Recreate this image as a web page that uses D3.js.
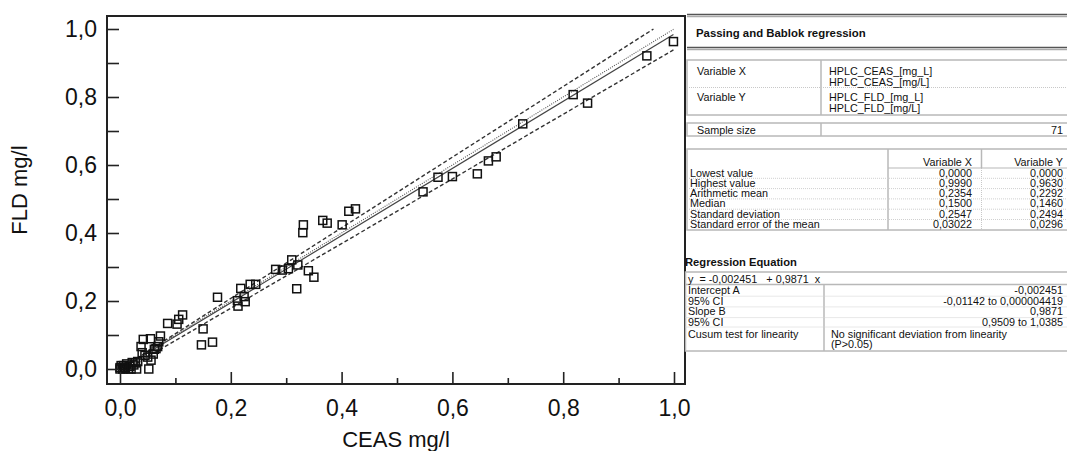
<!DOCTYPE html>
<html>
<head>
<meta charset="utf-8">
<script src="https://cdn.jsdelivr.net/npm/d3@7"></script>
<style>
body { margin: 0; background: #fff; }
text { font-family: "Liberation Sans", Arial, sans-serif; fill: #111; white-space: pre; }
</style>
</head>
<body>
<svg width="1067" height="451"></svg>
<script>
const ceas = [0.999, 0.951, 0.818, 0.844, 0.727, 0.679, 0.665, 0.645, 0.600, 0.574,
    0.547, 0.425, 0.413, 0.366, 0.374, 0.401, 0.331, 0.330, 0.310, 0.321,
    0.304, 0.293, 0.281, 0.340, 0.350, 0.319, 0.245, 0.235, 0.218, 0.224,
    0.226, 0.212, 0.213, 0.176, 0.150, 0.167, 0.147, 0.113, 0.106, 0.103,
    0.086, 0.073, 0.070, 0.068, 0.060, 0.056, 0.055, 0.042, 0.038, 0.040,
    0.052, 0.030, 0.015, 0.000, 0.002, 0.012, 0.022, 0.005, 0.008, 0.010,
    0.018, 0.025, 0.020, 0.000, 0.006, 0.028, 0.032, 0.045, 0.050, 0.062, 0.065];
const fld = [0.963, 0.921, 0.807, 0.782, 0.721, 0.624, 0.612, 0.574, 0.566, 0.564,
    0.521, 0.471, 0.464, 0.437, 0.429, 0.424, 0.424, 0.401, 0.321, 0.306,
    0.295, 0.291, 0.293, 0.289, 0.270, 0.236, 0.249, 0.249, 0.237, 0.213,
    0.198, 0.201, 0.185, 0.211, 0.118, 0.079, 0.071, 0.159, 0.146, 0.132,
    0.134, 0.097, 0.080, 0.066, 0.044, 0.026, 0.089, 0.087, 0.066, 0.048,
    0.000, 0.000, 0.000, 0.000, 0.010, 0.015, 0.019, 0.000, 0.005, 0.002,
    0.008, 0.012, 0.000, 0.004, 0.010, 0.018, 0.022, 0.040, 0.035, 0.058, 0.060];

const majorTicks = [0, 0.2, 0.4, 0.6, 0.8, 1.0];
const minorTicks = [0.1, 0.3, 0.5, 0.7, 0.9];
const yTicks = [0, 0.1, 0.2, 0.3, 0.4, 0.5, 0.6, 0.7, 0.8, 0.9, 1.0];

// Passing-Bablok fit: intercept A, slope B and their 95% CI
const interceptA = -0.002451;
const slopeB = 0.9871;
const interceptCI = [-0.01142, 0.000004419];
const slopeCI = [0.9509, 1.0385];
const xRange = [0, 0.999];

// report table contents
const variableRows = [
    ['Variable X', 'HPLC_CEAS_[mg_L]', 'HPLC_CEAS_[mg/L]'],
    ['Variable Y', 'HPLC_FLD_[mg_L]', 'HPLC_FLD_[mg/L]']
];
const sampleSize = 71;
const statHeader = ['Variable X', 'Variable Y'];
const statRows = [
    ['Lowest value', '0,0000', '0,0000'],
    ['Highest value', '0,9990', '0,9630'],
    ['Arithmetic mean', '0,2354', '0,2292'],
    ['Median', '0,1500', '0,1460'],
    ['Standard deviation', '0,2547', '0,2494'],
    ['Standard error of the mean', '0,03022', '0,0296']
];
const equation = 'y  = -0,002451   + 0,9871  x';
const regRows = [
    ['Intercept A', '-0,002451'],
    ['95% CI', '-0,01142 to 0,000004419'],
    ['Slope B', '0,9871'],
    ['95% CI', '0,9509 to 1,0385']
];
const cusum = ['Cusum test for linearity', 'No significant deviation from linearity', '(P>0.05)'];

const svg = d3.select('svg');

// ---------- scatter plot ----------
const frame = {left: 107, top: 16, right: 685, bottom: 384};
const x = d3.scaleLinear().domain([0, 1]).range([120, 674]);
const y = d3.scaleLinear().domain([0, 1]).range([369, 29]);
const comma = d => d3.format('.1f')(d).replace('.', ',');

const plot = svg.append('g');

// regression, identity and CI lines
const line = d3.line().x(d => x(d[0])).y(d => y(d[1]));
function fitLine(a, b) {
    let x1 = Math.min(xRange[1], (1 - a) / b);
    return [[xRange[0], a + b * xRange[0]], [x1, a + b * x1]];
}
plot.append('path').attr('d', line(fitLine(interceptCI[1], slopeCI[1])))
    .attr('fill', 'none').attr('stroke', '#333').attr('stroke-width', 1.4).attr('stroke-dasharray', '4,2.5');
plot.append('path').attr('d', line(fitLine(interceptCI[0], slopeCI[0])))
    .attr('fill', 'none').attr('stroke', '#333').attr('stroke-width', 1.4).attr('stroke-dasharray', '4,2.5');
plot.append('path').attr('d', line(fitLine(0, 1)))
    .attr('fill', 'none').attr('stroke', '#555').attr('stroke-width', 1.1).attr('stroke-dasharray', '1,1.3');
plot.append('path').attr('d', line(fitLine(interceptA, slopeB)))
    .attr('fill', 'none').attr('stroke', '#444').attr('stroke-width', 1.2);

// data points as open squares
plot.selectAll('rect.pt').data(ceas.map((c, i) => [c, fld[i]]))
    .enter().append('rect')
    .attr('class', 'pt')
    .attr('x', d => x(d[0]) - 4)
    .attr('y', d => y(d[1]) - 4)
    .attr('width', 8).attr('height', 8)
    .attr('fill', 'none').attr('stroke', '#111').attr('stroke-width', 1.5);

// axes with ticks pointing into the frame
plot.append('g').attr('transform', `translate(0,${frame.bottom})`)
    .call(d3.axisBottom(x).tickValues(majorTicks).tickSize(-12).tickPadding(16).tickFormat(comma));
plot.append('g').attr('transform', `translate(0,${frame.bottom})`)
    .call(d3.axisBottom(x).tickValues(minorTicks).tickSize(-6).tickFormat(''));
plot.append('g').attr('transform', `translate(${frame.left},0)`)
    .call(d3.axisLeft(y).tickValues(yTicks).tickSize(-12).tickPadding(10)
        .tickFormat(d => majorTicks.some(m => Math.abs(m - d) < 1e-9) ? comma(d) : ''));
plot.selectAll('.domain').remove();
plot.selectAll('.tick line').attr('stroke', '#222').attr('stroke-width', 1.6);
plot.selectAll('.tick text').attr('font-size', 23).attr('fill', '#111')
    .style('font-family', '"Liberation Sans", Arial, sans-serif');

plot.append('rect')
    .attr('x', frame.left).attr('y', frame.top)
    .attr('width', frame.right - frame.left).attr('height', frame.bottom - frame.top)
    .attr('fill', 'none').attr('stroke', '#222').attr('stroke-width', 2);

plot.append('text').attr('x', (frame.left + frame.right) / 2).attr('y', 447)
    .attr('text-anchor', 'middle').attr('font-size', 22).text('CEAS mg/l');
plot.append('text').attr('transform', 'translate(27,190) rotate(-90)')
    .attr('text-anchor', 'middle').attr('font-size', 22).text('FLD mg/l');

// ---------- report table ----------
const rep = svg.append('g').attr('font-size', 10.8);
const L = 687, R = 1070;

function hline(g, x1, x2, yy, color, w, dash) {
    g.append('line').attr('x1', x1).attr('x2', x2).attr('y1', yy).attr('y2', yy)
        .attr('stroke', color).attr('stroke-width', w).attr('stroke-dasharray', dash || null);
}
function vline(g, xx, y1, y2, color, w, dash) {
    g.append('line').attr('x1', xx).attr('x2', xx).attr('y1', y1).attr('y2', y2)
        .attr('stroke', color).attr('stroke-width', w).attr('stroke-dasharray', dash || null);
}
function box(g, x1, y1, x2, y2) {
    g.append('rect').attr('x', x1).attr('y', y1).attr('width', x2 - x1).attr('height', y2 - y1)
        .attr('fill', 'none').attr('stroke', '#b8b8b8').attr('stroke-width', 1.5);
}
function txt(g, xx, yy, s, anchor, weight) {
    return g.append('text').attr('x', xx).attr('y', yy).attr('text-anchor', anchor || 'start')
        .attr('font-weight', weight || null).text(s);
}

// title band
hline(rep, L, R, 14.5, '#555', 1.5);
hline(rep, L, R, 16.5, '#aaa', 1.5);
txt(rep, 696, 37, 'Passing and Bablok regression', 'start', 'bold').attr('font-size', 11.4);
hline(rep, L, R, 47.5, '#555', 1.5);
hline(rep, L, R, 49.5, '#aaa', 1.5);

// variables
box(rep, L, 60, R, 115);
vline(rep, 821, 60, 115, '#b8b8b8', 1.5);
hline(rep, L, R, 87.5, '#c8c8c8', 1, '1,1');
variableRows.forEach((r, i) => {
    let y0 = 74.5 + i * 26;
    txt(rep, 697, y0, r[0]);
    txt(rep, 829, y0, r[1]);
    txt(rep, 829, y0 + 11, r[2]);
});

// sample size
box(rep, L, 123, R, 136);
vline(rep, 821, 123, 136, '#b8b8b8', 1.5);
txt(rep, 697, 133.5, 'Sample size');
txt(rep, 1063, 133.5, sampleSize, 'end');

// descriptive statistics
box(rep, L, 149, R, 230);
vline(rep, 888, 149, 230, '#b8b8b8', 1.5);
vline(rep, 981.5, 149, 168, '#b8b8b8', 1.5);
vline(rep, 981.5, 168, 230, '#c8c8c8', 1, '1,1');
hline(rep, 888, R, 168, '#b8b8b8', 1.2);
txt(rep, 972, 165.5, statHeader[0], 'end');
txt(rep, 1063, 165.5, statHeader[1], 'end');
statRows.forEach((r, i) => {
    let y0 = 176.5 + i * 10.3;
    if (i > 0) hline(rep, L, R, y0 - 8.5, '#d0d0d0', 1, '1,1');
    txt(rep, 690, y0, r[0]);
    txt(rep, 972, y0, r[1], 'end');
    txt(rep, 1063, y0, r[2], 'end');
});

// regression equation
txt(rep, 685, 266, 'Regression Equation', 'start', 'bold').attr('font-size', 11.2);
box(rep, 685.5, 272, R, 351);
hline(rep, 685.5, R, 284.5, '#b8b8b8', 1.5);
vline(rep, 824, 284.5, 351, '#b8b8b8', 1.5);
txt(rep, 688, 282.5, equation);
regRows.forEach((r, i) => {
    let y0 = 294 + i * 10.7;
    if (i > 0) hline(rep, 685.5, R, y0 - 8.5, '#d0d0d0', 1, '1,1');
    txt(rep, 688, y0, r[0]);
    txt(rep, 1063, y0, r[1], 'end');
});
hline(rep, 685.5, R, 327, '#d0d0d0', 1, '1,1');
txt(rep, 688, 337.5, cusum[0]);
txt(rep, 831, 337.5, cusum[1]);
txt(rep, 831, 348, cusum[2]);
</script>
</body>
</html>
